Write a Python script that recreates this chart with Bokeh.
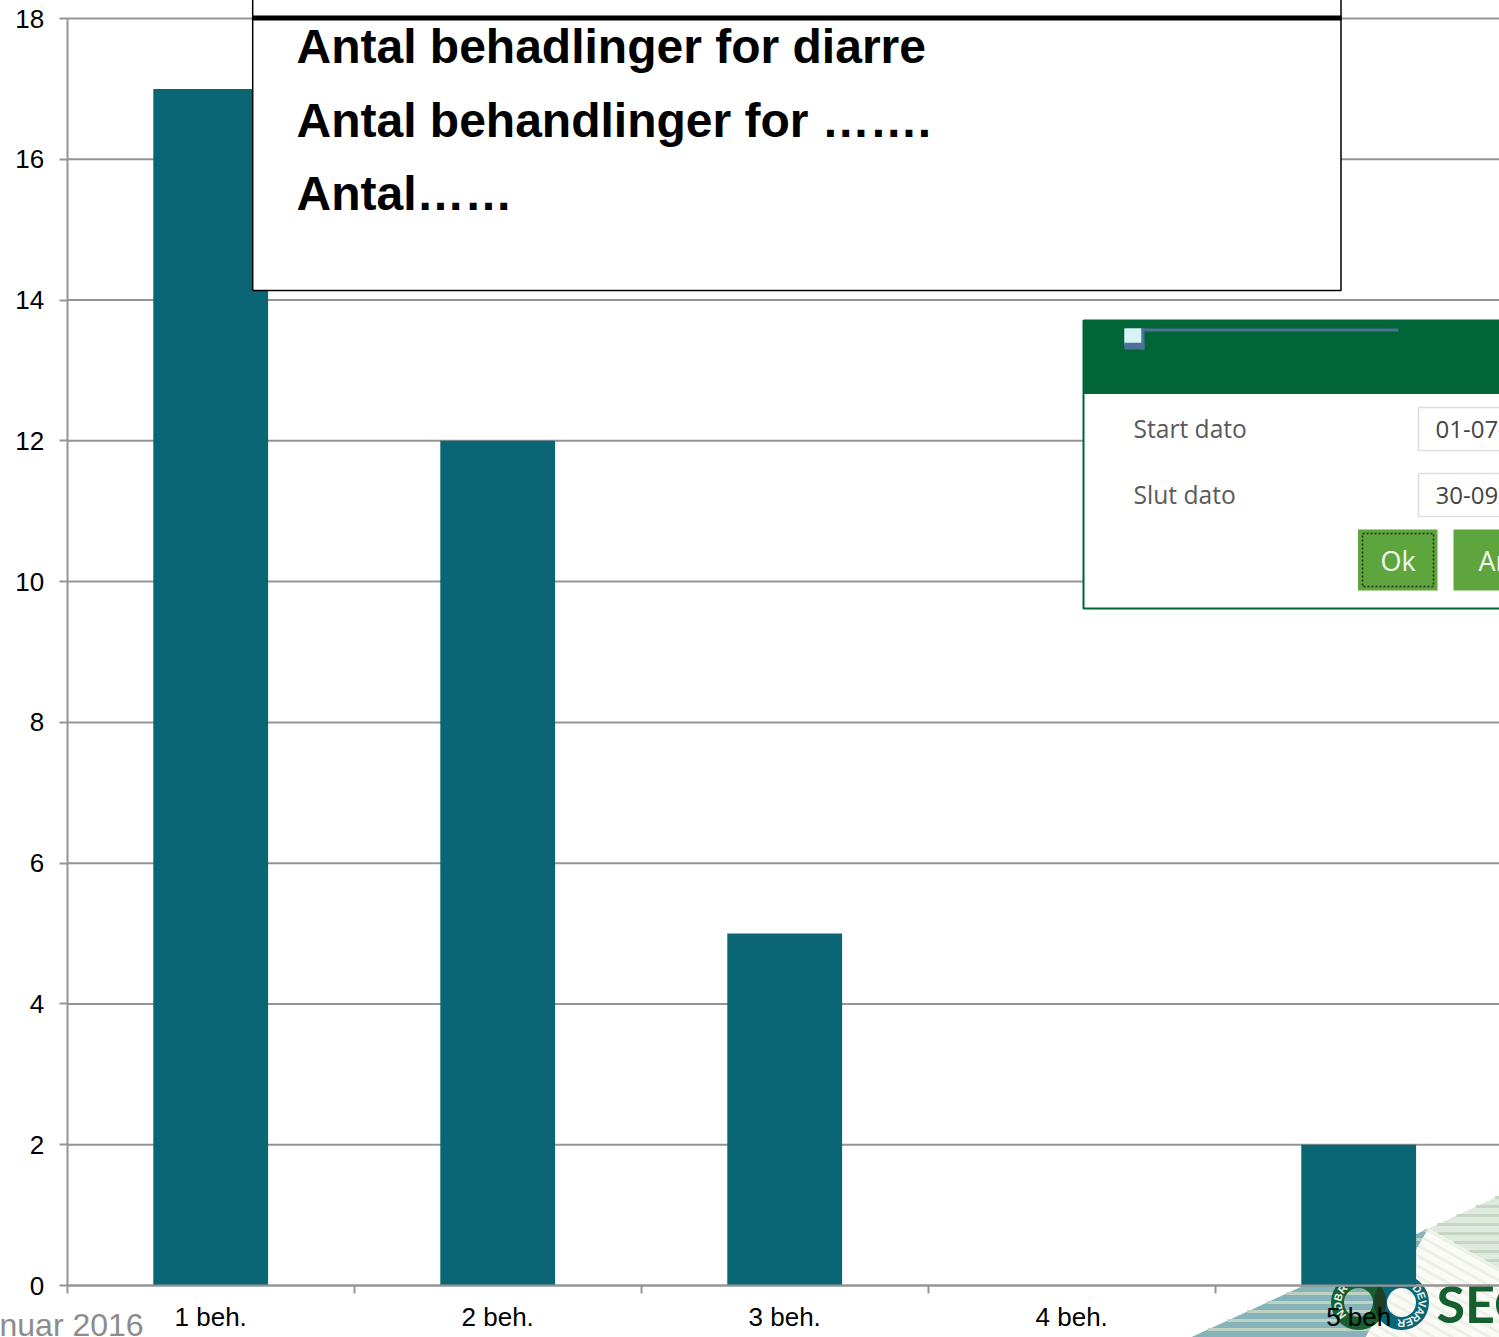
import math
from bokeh.plotting import figure
from bokeh.models import Range1d, LinearAxis, FixedTicker
from bokeh.core.properties import value
from bokeh.embed import file_html
from bokeh.resources import INLINE

categories = ["1 beh.", "2 beh.", "3 beh.", "4 beh.", "5 beh"]
counts = [17, 12, 5, 0, 2]
y_ticks = [0, 2, 4, 6, 8, 10, 12, 14, 16, 18]
popup_lines = ["Antal behadlinger for diarre", "Antal behandlinger for …….", "Antal……"]
dialog_labels = ["Start dato", "Slut dato"]
dialog_dates = ["01-07-", "30-09-"]
footer_text = "nuar 2016"

W, H = 1499, 1337
L, CAT_W = 66.7, 287
B, T = 1285, 18
UNIT = (B - T) / 18

def X(px):
    return (px - L) / CAT_W

def Y(py):
    return (B - py) / UNIT

p = figure(width=W, height=H, output_backend="svg", toolbar_location=None,
           x_range=Range1d(X(0), X(W)), y_range=Range1d(Y(H), Y(0)),
           x_axis_location=None, y_axis_location=None, min_border=0,
           outline_line_color=None, background_fill_color="white")
p.grid.visible = False

GREY = "#959595"
TEAL = "#0A6675"
LOGO_GREEN = "#14602F"
ARIAL = value("Liberation Sans")
centers = [i + 0.5 for i in range(len(categories))]

# --- logo background (under the bars) ---
def clip_lines(poly, dx, dy, period, offset=0.0):
    nx, ny = -dy, dx
    n = math.hypot(nx, ny)
    nx, ny = nx / n, ny / n
    projs = [x * nx + y * ny for x, y in poly]
    xs, ys = [], []
    c = min(projs) + offset
    while c < max(projs):
        hits = []
        for i in range(len(poly)):
            (x0, y0), (x1, y1) = poly[i], poly[(i + 1) % len(poly)]
            d0, d1 = x0 * nx + y0 * ny - c, x1 * nx + y1 * ny - c
            if d0 * d1 < 0:
                t = d0 / (d0 - d1)
                hits.append((x0 + t * (x1 - x0), y0 + t * (y1 - y0)))
        if len(hits) == 2:
            xs.append([X(hits[0][0]), X(hits[1][0])])
            ys.append([Y(hits[0][1]), Y(hits[1][1])])
        c += period
    return xs, ys

def striped(poly, base, stripe, dx, dy, period, lw):
    p.patch([X(a) for a, _ in poly], [Y(b) for _, b in poly], fill_color=base,
            line_color=None, level="underlay")
    xs, ys = clip_lines(poly, dx, dy, period, 2)
    p.multi_line(xs, ys, line_color=stripe, line_width=lw, level="underlay")

striped([(1190, 1337), (1428, 1228), (1365, 1337)], "#86B3B9", "#BDD2C3", 1, 0, 9, 3)
striped([(1428, 1228), (1499, 1195), (1499, 1268)], "#DFE9DF", "#C5D6C3", 1, 0, 9, 3)
striped([(1428, 1228), (1499, 1268), (1499, 1337), (1365, 1337)], "#FAFAF6", "#EDF0E7", 1, 0.56, 9, 3)

ring_y = 1302
RING_OUT, RING_IN = 27.5, 14.5
C1, C2 = 1358, 1401
p.annulus([X(C2)], [Y(ring_y)], inner_radius=RING_IN, outer_radius=RING_OUT,
          inner_radius_units="screen", outer_radius_units="screen",
          fill_color=TEAL, line_color=None, level="underlay")
p.annulus([X(C1)], [Y(ring_y)], inner_radius=RING_IN, outer_radius=RING_OUT,
          inner_radius_units="screen", outer_radius_units="screen",
          fill_color=LOGO_GREEN, line_color=None, level="underlay")
half = math.acos((C2 - C1) / 2 / RING_OUT)
lens = [(C1 + RING_OUT * math.cos(-half + 2 * half * i / 16),
         ring_y + RING_OUT * math.sin(-half + 2 * half * i / 16)) for i in range(17)]
lens += [(C2 - RING_OUT * math.cos(-half + 2 * half * i / 16),
          ring_y - RING_OUT * math.sin(-half + 2 * half * i / 16)) for i in range(17)]
p.patch([X(a) for a, _ in lens], [Y(b) for _, b in lens], fill_color="#1B3E24",
        line_color=None, level="underlay")

def ring_text(cx, letters, start, step):
    for i, ch in enumerate(letters):
        a = math.radians(start + step * i)
        p.text([X(cx + 21 * math.cos(a))], [Y(ring_y - 21 * math.sin(a))], text=[ch],
               angle=[a - math.pi / 2], text_color="#E8EFE8", text_font=ARIAL,
               text_font_style="bold", text_font_size="11px", text_align="center",
               text_baseline="middle", level="underlay")

ring_text(C1, "NDBR", 215, -25)
ring_text(C2, "DEVARER", 41, -22)
p.text([X(1436)], [Y(1302)], text=["SEGES"], text_color=LOGO_GREEN, text_font=value("Lato"),
       text_font_style="bold", text_font_size="52px", text_baseline="alphabetic", level="underlay")

# --- grid lines ---
p.segment([0] * len(y_ticks), y_ticks, [5.1] * len(y_ticks), y_ticks,
          line_color=GREY, line_width=2, level="underlay")

# --- bars ---
p.vbar(x=centers, top=counts, bottom=0, width=0.4, fill_color=TEAL, line_color=None)

# --- axes ---
yaxis = LinearAxis(fixed_location=0, bounds=(0, 18), ticker=FixedTicker(ticks=y_ticks),
                   axis_line_color=GREY, axis_line_width=2,
                   major_tick_line_color=GREY, major_tick_line_width=2,
                   major_tick_out=8, major_tick_in=0, minor_tick_line_color=None,
                   major_label_text_font="Liberation Sans", major_label_text_font_size="26px",
                   major_label_text_color="black", major_label_standoff=15)
p.add_layout(yaxis, "left")

xaxis = LinearAxis(fixed_location=0, bounds=(0, 5.1),
                   ticker=FixedTicker(ticks=centers, minor_ticks=list(range(6))),
                   major_label_overrides=dict(zip(centers, categories)),
                   axis_line_color=GREY, axis_line_width=2,
                   major_tick_line_color=None, major_tick_out=0, major_tick_in=0,
                   minor_tick_line_color=GREY, minor_tick_line_width=2,
                   minor_tick_out=8, minor_tick_in=0,
                   major_label_text_font="Liberation Sans", major_label_text_font_size="26px",
                   major_label_text_color="black", major_label_standoff=8)
p.add_layout(xaxis, "below")

p.text([X(-1)], [Y(1324)], text=[footer_text], text_color="#8C8C8C", text_font=ARIAL,
       text_font_size="32px", text_baseline="alphabetic", level="underlay")

# --- popup ---
def box(x0, y0, x1, y1, fill, line=None, lw=1, dash="solid"):
    p.quad(left=[X(x0)], right=[X(x1)], top=[Y(y0)], bottom=[Y(y1)], fill_color=fill,
           line_color=line, line_width=lw, line_dash=dash, level="overlay")

box(252.2, -5, 1340.5, 290, "white", "black", 1.5)
box(252, 15, 1341, 20, "black")
for line, base in zip(popup_lines, [46, 120, 193]):
    p.text([X(296)], [Y(base)], text=[line], text_color="black", text_font=ARIAL,
           text_font_style="bold", text_font_size="48px", text_baseline="alphabetic", level="overlay")

# --- dialog ---
DGREEN = "#006537"
box(1083, 320, W + 5, 608, "white", DGREEN, 2)
box(1083, 320, W + 5, 393.5, DGREEN)
box(1124, 328, 1141, 345, "#D6F3F5")
box(1124, 342, 1144, 349, "#4F7098")
box(1124, 328, 1141, 342, "#D6F3F5")
box(1141, 328, 1398, 331, "#4F7098")
box(1141, 328, 1144, 349, "#4F7098")
for label, date, top in zip(dialog_labels, dialog_dates, [407, 473]):
    box(1418, top, W + 5, top + 43, "white", "#DDDDDD", 1.5)
    p.text([X(1133)], [Y(top + 21)], text=[label], text_color="#5A5A5A", text_font=value("Open Sans"),
           text_font_size="24.6px", text_baseline="middle", level="overlay")
    p.text([X(1435)], [Y(top + 22)], text=[date], text_color="#444444", text_font=value("Open Sans"),
           text_font_size="24px", text_baseline="middle", level="overlay")
BTN = "#5FA53D"
box(1357.5, 529, 1437, 590, BTN)
box(1453, 529, W + 5, 590, BTN)
box(1362, 533, 1433, 586, None, "#1C2C14", 1.5, "2 2")
p.text([X(1397.5)], [Y(560)], text=["Ok"], text_color="#F2F7EE", text_font=value("Open Sans"),
       text_font_size="27px", text_align="center", text_baseline="middle", level="overlay")
p.text([X(1478)], [Y(560)], text=["An"], text_color="#F2F7EE", text_font=value("Open Sans"),
       text_font_size="27px", text_baseline="middle", level="overlay")

open("out.html", "w").write(file_html(p, INLINE))
